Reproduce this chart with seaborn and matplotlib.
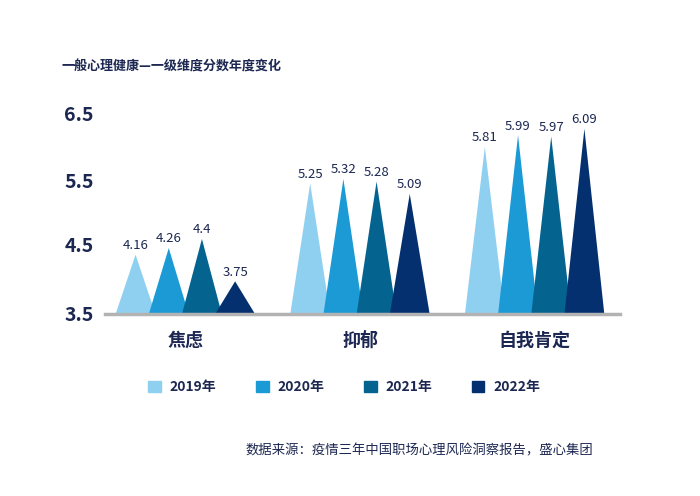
import pandas as pd
import seaborn as sns
import matplotlib.pyplot as plt
from matplotlib.patches import Polygon

categories = ["焦虑", "抑郁", "自我肯定"]
years = ["2019年", "2020年", "2021年", "2022年"]
scores = {
    "2019年": [4.16, 5.25, 5.81],
    "2020年": [4.26, 5.32, 5.99],
    "2021年": [4.40, 5.28, 5.97],
    "2022年": [3.75, 5.09, 6.09],
}
tick_labels = ["3.5", "4.5", "5.5", "6.5"]
colors = ["#8fd0f0", "#1b9ad6", "#05638f", "#04306f"]
navy = "#1c2752"

rows = []
for y in years:
    for c, v in zip(categories, scores[y]):
        rows.append({"cat": c, "year": y, "score": v})
df = pd.DataFrame(rows)

sns.set_style("white")
plt.rcParams["font.family"] = ["Noto Sans CJK SC", "DejaVu Sans"]

fig = plt.figure(figsize=(7, 4.96), dpi=100)
ax = fig.add_axes([0.15, 0.367, 0.736, 0.43])

sns.barplot(data=df, x="cat", y="score", hue="year", palette=colors,
            saturation=1, width=0.76, ax=ax, legend=False, errorbar=None)

base = 3.25
ax.set_ylim(base, 6.52)
ax.set_xlim(-0.46, 2.49)

# turn each bar into a triangle
bars = list(ax.patches)
for p in bars:
    x0 = p.get_x()
    w = p.get_width()
    h = p.get_height()
    cx = x0 + w / 2
    hw = w * 0.6
    tri = Polygon([(cx - hw, base), (cx + hw, base), (cx, h)], closed=True,
                  facecolor=p.get_facecolor(), edgecolor="none", zorder=3)
    ax.add_patch(tri)
    ax.text(cx, h + 0.04, f"{h:g}", ha="center", va="bottom",
            fontsize=9.5, color=navy, zorder=4)
    p.remove()

# tick label positions as they sit in the original picture
ax.set_yticks([3.25, 4.32, 5.30, 6.32])
ax.set_yticklabels(tick_labels, fontsize=14, fontweight="bold", color=navy)
ax.tick_params(axis="y", length=0, pad=8)
ax.tick_params(axis="x", length=0, pad=12)
for t in ax.get_xticklabels():
    t.set_fontsize(13)
    t.set_fontweight("bold")
    t.set_color(navy)
ax.set_xlabel("")
ax.set_ylabel("")
for s in ["top", "right", "left"]:
    ax.spines[s].set_visible(False)
ax.spines["bottom"].set_color("#b3b3b3")
ax.spines["bottom"].set_linewidth(2.5)
ax.spines["bottom"].set_zorder(5)

handles = [plt.Rectangle((0, 0), 1, 1, color=c) for c in colors]
fig.legend(handles, years, loc="center", bbox_to_anchor=(0.492, 0.219),
           ncol=4, frameon=False, handlelength=0.9, handleheight=0.9,
           handletextpad=0.65, columnspacing=2.85,
           prop={"size": 10, "weight": "bold"}, labelcolor=navy)

fig.text(62 / 700, 1 - 67 / 496, "一般心理健康—一级维度分数年度变化",
         fontsize=9.4, fontweight="bold", color=navy, va="center")
fig.text(593 / 700, 1 - 450 / 496, "数据来源：疫情三年中国职场心理风险洞察报告，盛心集团",
         fontsize=9.6, color=navy, ha="right", va="center")

fig.savefig("out.png", dpi=100)
